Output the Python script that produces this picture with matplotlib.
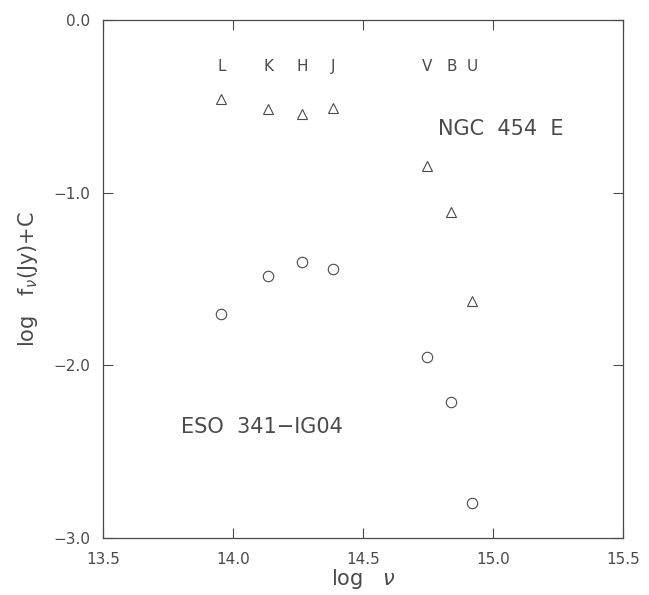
import numpy as np
import matplotlib.pyplot as plt

# photometric bands and their log frequency
bands = ['L', 'K', 'H', 'J', 'V', 'B', 'U']
log_nu = [13.955, 14.135, 14.265, 14.385, 14.745, 14.84, 14.92]

# log f_nu + C for the two galaxies
ngc454e = [-0.46, -0.515, -0.545, -0.51, -0.845, -1.11, -1.63]
eso341 = [-1.70, -1.48, -1.40, -1.44, -1.95, -2.21, -2.80]

ink = '#4a4a4a'
plt.rcParams['font.family'] = ['DejaVu Sans']

fig = plt.figure(figsize=(6.49, 5.95), dpi=100)
ax = fig.add_axes([0.1587, 0.0958, 0.8013, 0.8706])

# NGC 454 E as open triangles, ESO 341-IG04 as open circles
ax.plot(log_nu, ngc454e, linestyle='none', marker='^', markersize=7,
        markerfacecolor='none', markeredgecolor=ink, markeredgewidth=0.8)
ax.plot(log_nu, eso341, linestyle='none', marker='o', markersize=7.5,
        markerfacecolor='none', markeredgecolor=ink, markeredgewidth=0.8)

# band names along the top
for b, x in zip(bands, log_nu):
    ax.text(x, -0.27, b, ha='center', va='center', fontsize=11, color=ink)

ax.text(14.79, -0.63, 'NGC  454  E', ha='left', va='center', fontsize=15, color=ink)
ax.text(13.80, -2.36, 'ESO  341\u2212IG04', ha='left', va='center', fontsize=15, color=ink)

ax.set_xlim(13.5, 15.5)
ax.set_ylim(-3.0, 0.0)
ax.set_xticks([13.5, 14.0, 14.5, 15.0, 15.5])
ax.set_yticks([-3.0, -2.0, -1.0, 0.0])
ax.set_xticklabels(['13.5', '14.0', '14.5', '15.0', '15.5'])
ax.set_yticklabels(['\u22123.0', '\u22122.0', '\u22121.0', '0.0'])
ax.tick_params(direction='in', length=7, width=0.8, color=ink, labelcolor=ink,
               labelsize=11, top=True, right=True)
ax.tick_params(axis='x', pad=10)
ax.tick_params(axis='y', pad=9)
for s in ax.spines.values():
    s.set_color(ink)
    s.set_linewidth(0.9)

ax.set_xlabel(r'log   $\nu$', fontsize=15, color=ink, labelpad=0)
ax.set_ylabel(r'log   f$_\nu$(Jy)+C', fontsize=15, color=ink, labelpad=10)

fig.savefig('out.png', dpi=100)
